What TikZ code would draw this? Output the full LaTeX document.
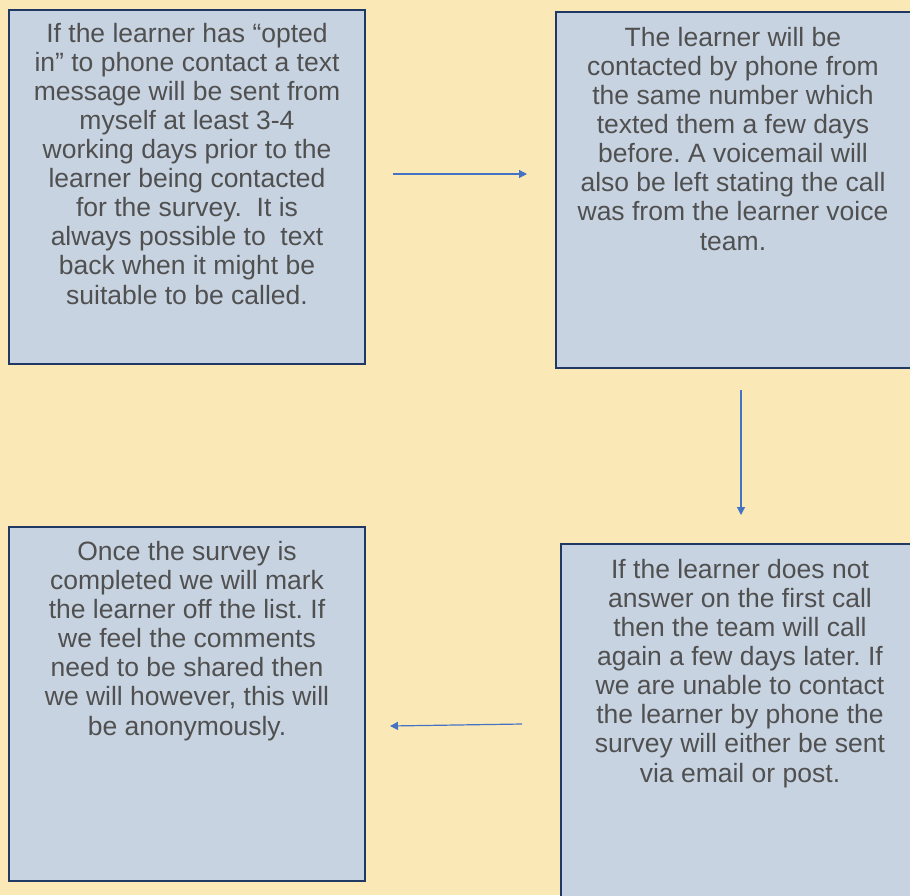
\documentclass[tikz,border=0pt]{standalone}
\usepackage{fontspec}
\setmainfont{Liberation Sans}
\usetikzlibrary{arrows.meta}
\frenchspacing
\definecolor{bgyellow}{RGB}{250,233,183}
\definecolor{boxfill}{RGB}{199,211,225}
\definecolor{boxline}{RGB}{31,56,100}
\definecolor{txtgray}{RGB}{80,80,80}
\definecolor{arrowblue}{RGB}{68,114,196}
\tikzset{
  panel/.style={draw=boxline, line width=2.2pt, fill=boxfill},
  paneltext/.style={anchor=base, align=center, inner sep=0pt, text=txtgray,
    font=\fontsize{26.5}{29.1}\selectfont},
  flow/.style={draw=arrowblue, line width=1.2pt, -{Triangle[length=8pt,width=8pt]}}
}
\begin{document}
\begin{tikzpicture}[x=1pt,y=-1pt]
\useasboundingbox (0,0) rectangle (910,895);
\fill[bgyellow] (0,0) rectangle (910,895);
\begin{scope}
\clip (0,0) rectangle (910,895);
\draw[panel] (9,10) rectangle (365,364);
\draw[panel] (556,12) rectangle (912,368);
\draw[panel] (561,544) rectangle (917,900);
\draw[panel] (9,527) rectangle (365,881);
\end{scope}
% anchor=base of a multi-line node sits on its last line's baseline
\node[paneltext] (t1) at (187,304) {If the learner has “opted\\in” to phone contact a text\\message will be sent from\\myself at least 3-4\\working days prior to the\\learner being contacted\\for the survey.\ \ It is\\always possible to\ \ text\\back when it might be\\suitable to be called.};
\node[paneltext] (t2) at (733,250) {The learner will be\\contacted by phone from\\the same number which\\texted them a few days\\before. A voicemail will\\also be left stating the call\\was from the learner voice\\team.};
\node[paneltext] (t3) at (740,782) {If the learner does not\\answer on the first call\\then the team will call\\again a few days later. If\\we are unable to contact\\the learner by phone the\\survey will either be sent\\via email or post.};
\node[paneltext] (t4) at (187,735) {Once the survey is\\completed we will mark\\the learner off the list. If\\we feel the comments\\need to be shared then\\we will however, this will\\be anonymously.};
\coordinate (a1s) at (393,174);
\coordinate (a1e) at (527,174);
\coordinate (a2s) at (741,390);
\coordinate (a2e) at (741,515);
\coordinate (a3s) at (522,724);
\coordinate (a3e) at (390,726);
\draw[flow] (a1s) -- (a1e);
\draw[flow] (a2s) -- (a2e);
\draw[flow] (a3s) -- (a3e);
\end{tikzpicture}
\end{document}
